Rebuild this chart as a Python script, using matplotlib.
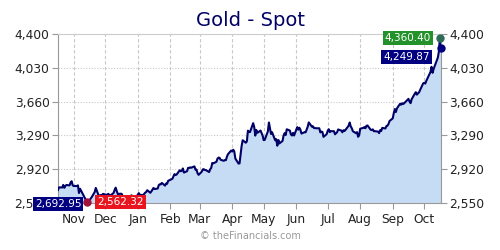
import matplotlib
matplotlib.use("Agg")
import matplotlib.pyplot as plt
import matplotlib.dates as mdates
from matplotlib.ticker import FixedLocator, FuncFormatter
import pandas as pd

title = "Gold - Spot"
watermark = "\u00a9 theFinancials.com"

oct24 = [(17, 2692.95), (18, 2721), (21, 2720), (22, 2748), (23, 2716), (24, 2736), (25, 2747),
         (28, 2743), (29, 2774), (30, 2788), (31, 2743)]
nov24 = [(1, 2736), (4, 2736), (5, 2743), (6, 2659), (7, 2706), (8, 2685), (11, 2618), (12, 2598),
         (13, 2573), (14, 2562.32), (15, 2565), (18, 2612), (19, 2631), (20, 2651), (21, 2670),
         (22, 2715), (25, 2624), (26, 2632), (27, 2637), (28, 2638), (29, 2650)]
dec24 = [(2, 2639), (3, 2643), (4, 2650), (5, 2632), (6, 2633), (9, 2660), (10, 2694), (11, 2718),
         (12, 2680), (13, 2648), (16, 2652), (17, 2646), (18, 2587), (19, 2594), (20, 2622),
         (23, 2612), (24, 2617), (26, 2634), (27, 2621), (30, 2606), (31, 2624)]
jan25 = [(2, 2658), (3, 2640), (6, 2636), (7, 2648), (8, 2662), (9, 2670), (10, 2690), (13, 2662),
         (14, 2677), (15, 2697), (16, 2715), (17, 2703), (20, 2708), (21, 2745), (22, 2755),
         (23, 2754), (24, 2770), (27, 2740), (28, 2763), (29, 2760), (30, 2794), (31, 2798)]
feb25 = [(3, 2815), (4, 2842), (5, 2866), (6, 2856), (7, 2861), (10, 2908), (11, 2898), (12, 2904),
         (13, 2928), (14, 2883), (17, 2898), (18, 2935), (19, 2933), (20, 2940), (21, 2936),
         (24, 2951), (25, 2915), (26, 2916), (27, 2876), (28, 2858)]
mar25 = [(3, 2893), (4, 2918), (5, 2920), (6, 2911), (7, 2910), (10, 2889), (11, 2918), (12, 2934),
         (13, 2988), (14, 2984), (17, 3001), (18, 3035), (19, 3047), (20, 3044), (21, 3023),
         (24, 3012), (25, 3020), (26, 3019), (27, 3057), (28, 3084), (31, 3124)]
apr25 = [(1, 3113), (2, 3133), (3, 3114), (4, 3037), (7, 2982), (8, 2983), (9, 3083), (10, 3175),
         (11, 3237), (14, 3210), (15, 3225), (16, 3342), (17, 3327), (18, 3327), (21, 3424),
         (22, 3381), (23, 3288), (24, 3349), (25, 3318), (28, 3343), (29, 3317), (30, 3289)]
may25 = [(1, 3238), (2, 3241), (5, 3334), (6, 3431), (7, 3365), (8, 3306), (9, 3325), (12, 3236),
         (13, 3248), (14, 3177), (15, 3240), (16, 3202), (19, 3230), (20, 3290), (21, 3315),
         (22, 3294), (23, 3357), (26, 3343), (27, 3300), (28, 3289), (29, 3318), (30, 3289)]
jun25 = [(2, 3380), (3, 3353), (4, 3374), (5, 3353), (6, 3310), (9, 3325), (10, 3324), (11, 3356),
         (12, 3386), (13, 3432), (16, 3385), (17, 3389), (18, 3370), (19, 3370), (20, 3368),
         (23, 3368), (24, 3323), (25, 3332), (26, 3328), (27, 3274), (30, 3303)]
jul25 = [(1, 3339), (2, 3357), (3, 3326), (4, 3336), (7, 3336), (8, 3302), (9, 3313), (10, 3325),
         (11, 3355), (14, 3343), (15, 3324), (16, 3347), (17, 3338), (18, 3350), (21, 3397),
         (22, 3431), (23, 3387), (24, 3368), (25, 3336), (28, 3314), (29, 3326), (30, 3275), (31, 3290)]
aug25 = [(1, 3363), (4, 3373), (5, 3381), (6, 3369), (7, 3396), (8, 3398), (11, 3352), (12, 3348),
         (13, 3356), (14, 3336), (15, 3336), (18, 3332), (19, 3315), (20, 3347), (21, 3338),
         (22, 3372), (25, 3366), (26, 3393), (27, 3396), (28, 3416), (29, 3448)]
sep25 = [(1, 3476), (2, 3533), (3, 3578), (4, 3546), (5, 3586), (8, 3636), (9, 3626), (10, 3642),
         (11, 3634), (12, 3643), (15, 3679), (16, 3690), (17, 3660), (18, 3643), (19, 3685),
         (22, 3746), (23, 3763), (24, 3736), (25, 3749), (26, 3760), (29, 3833), (30, 3859)]
oct25 = [(1, 3866), (2, 3857), (3, 3887), (6, 3960), (7, 3985), (8, 4041), (9, 3975), (10, 4018),
         (13, 4110), (14, 4142), (15, 4209), (16, 4360.40), (17, 4249.87)]

months = [(2024, 10, oct24), (2024, 11, nov24), (2024, 12, dec24), (2025, 1, jan25),
          (2025, 2, feb25), (2025, 3, mar25), (2025, 4, apr25), (2025, 5, may25),
          (2025, 6, jun25), (2025, 7, jul25), (2025, 8, aug25), (2025, 9, sep25),
          (2025, 10, oct25)]

y_ticks = [2550, 2920, 3290, 3660, 4030, 4400]
month_labels = ["Nov", "Dec", "Jan", "Feb", "Mar", "Apr", "May", "Jun", "Jul", "Aug", "Sep", "Oct"]
month_starts = ["2024-11-01", "2024-12-01", "2025-01-01", "2025-02-01", "2025-03-01", "2025-04-01",
                "2025-05-01", "2025-06-01", "2025-07-01", "2025-08-01", "2025-09-01", "2025-10-01"]

dates, prices = [], []
for yr, mo, rows in months:
    for d, v in rows:
        dates.append(pd.Timestamp(yr, mo, d))
        prices.append(v)
dates = pd.to_datetime(dates)

line_c = "#000066"
fill_c = "#c6dcf5"
grid_c = "#c8c8c8"
spine_c = "#999999"
text_c = "#222222"

fig = plt.figure(figsize=(5, 2.5), dpi=100)
ax = fig.add_axes([0.116, 0.188, 0.766, 0.676])

ax.fill_between(dates, prices, y_ticks[0], color=fill_c, lw=0, zorder=1)
ax.plot(dates, prices, color=line_c, lw=1.5, zorder=3, solid_joinstyle="round")

ax.set_xlim(dates[0], dates[-1])
ax.set_ylim(y_ticks[0], y_ticks[-1])

ms = pd.to_datetime(month_starts)
ax.set_xticks(ms)
ax.set_xticklabels(month_labels)
ax.yaxis.set_major_locator(FixedLocator(y_ticks))
ax.yaxis.set_major_formatter(FuncFormatter(lambda v, p: f"{v:,.0f}"))

for m in ms:
    ax.axvline(m, color=grid_c, lw=0.8, ls=(0, (3, 2)), zorder=0.5)
for yv in y_ticks[1:-1]:
    ax.axhline(yv, color=grid_c, lw=0.8, ls=(0, (1, 1.5)), zorder=0.5)

ax.tick_params(axis="both", labelsize=8.8, colors=spine_c, labelcolor=text_c, length=4, width=0.8)
ax.tick_params(axis="y", which="both", left=True, right=True, labelleft=True, labelright=True, pad=2)
ax.tick_params(axis="x", pad=3)

for s in ["left", "right", "bottom"]:
    ax.spines[s].set_color(spine_c)
    ax.spines[s].set_linewidth(0.8)
ax.spines["top"].set_color("#cccccc")
ax.spines["top"].set_linewidth(0.8)

fig.text(0.5, 0.896, title, ha="center", va="baseline", fontsize=14, color="#000066")
fig.text(0.5, 0.045, watermark, ha="center", va="baseline", fontsize=7, color="#999999")

# markers and value labels
i_min = prices.index(min(prices))
i_max = prices.index(max(prices))
navy = "#000080"

def label(i, text, bg, dx, dy, ha):
    ax.annotate(text, (dates[i], prices[i]), xytext=(dx, dy), textcoords="offset pixels",
                ha=ha, va="center", fontsize=7.5, color="white", zorder=6,
                bbox=dict(boxstyle="square,pad=0.2", fc=bg, ec="none"), annotation_clip=False)

ax.plot(dates[i_min], prices[i_min], "o", color="#a0103a", ms=5, zorder=5, clip_on=False)
ax.plot(dates[i_max], prices[i_max], "o", color="#2e6b55", ms=5, zorder=5, clip_on=False)
ax.plot(dates[-1], prices[-1], "o", color=navy, ms=5, zorder=5, clip_on=False)

ax.annotate(f"{prices[0]:,.2f}", (dates[0], y_ticks[0]), xytext=(0, -1), textcoords="offset pixels",
            ha="center", va="center", fontsize=7.5, color="white", zorder=6,
            bbox=dict(boxstyle="square,pad=0.2", fc=navy, ec="none"), annotation_clip=False)
label(i_min, f"{prices[i_min]:,.2f}", "#e8141e", 10, 0, "left")
label(i_max, f"{prices[i_max]:,.2f}", "#23922a", -9, 0, "right")
label(len(prices) - 1, f"{prices[-1]:,.2f}", navy, -11, -9, "right")

fig.savefig("out.png", dpi=100)
